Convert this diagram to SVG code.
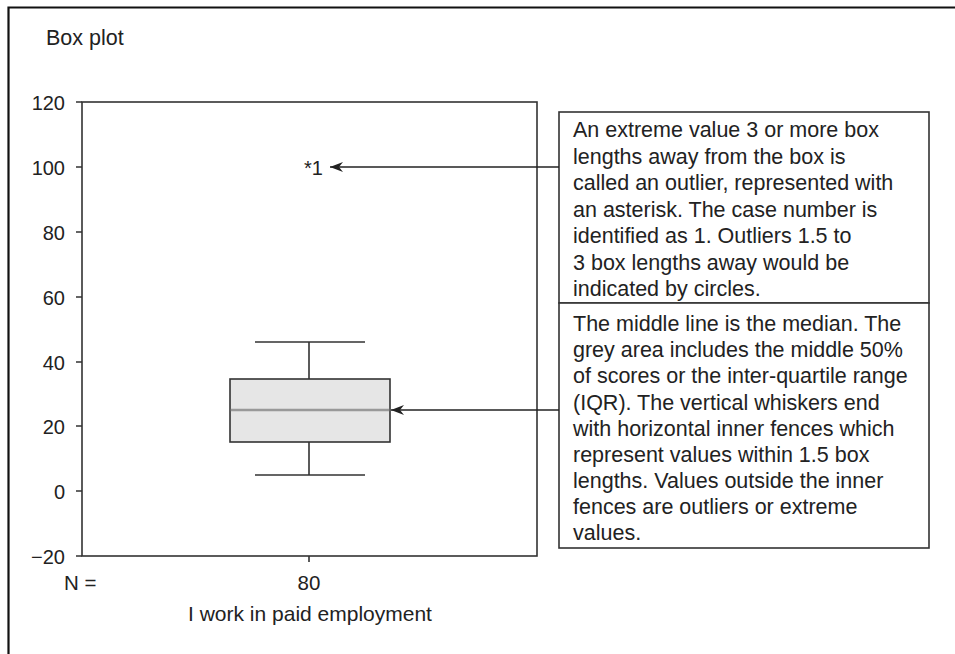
<svg xmlns="http://www.w3.org/2000/svg" width="955" height="654" viewBox="0 0 955 654">
  <defs>
    <marker id="arrow" viewBox="0 0 13 10" refX="13" refY="5" markerWidth="13" markerHeight="10" markerUnits="userSpaceOnUse" orient="auto">
      <path d="M0,0 L13,5 L0,10 L4,5 Z" fill="#222"/>
    </marker>
    <style>
      text { font-family: "Liberation Sans", Arial, sans-serif; fill: #222; }
      .tick { font-size: 20px; text-anchor: end; }
      .note { font-size: 21.5px; }
      .ln { stroke: #333; stroke-width: 1.6; fill: none; }
    </style>
  </defs>
  <rect width="955" height="654" fill="#fff"/>

  <!-- outer frame (top and left edges) -->
  <path d="M8.5,654 V7.5 H955" fill="none" stroke="#111" stroke-width="2.2"/>

  <text x="46" y="45" font-size="21.5">Box plot</text>

  <!-- plot area -->
  <g id="plot">
    <rect x="82" y="102" width="455" height="454" class="ln"/>
    <g class="ln">
      <path d="M76,102 H82 M76,167 H82 M76,232 H82 M76,297 H82 M76,362 H82 M76,426 H82 M76,491 H82 M76,556 H82 M309,556 V562"/>
    </g>
    <text class="tick" x="65" y="109.5">120</text>
    <text class="tick" x="65" y="174.5">100</text>
    <text class="tick" x="65" y="239.5">80</text>
    <text class="tick" x="65" y="304.5">60</text>
    <text class="tick" x="65" y="369.5">40</text>
    <text class="tick" x="65" y="433.5">20</text>
    <text class="tick" x="65" y="498.5">0</text>
    <text class="tick" x="65" y="563.5">−20</text>
    <text x="64" y="590" font-size="20.5">N =</text>
    <text x="309" y="590" font-size="20.5" text-anchor="middle">80</text>
    <text x="310" y="621" font-size="21" text-anchor="middle">I work in paid employment</text>
  </g>

  <!-- box and whiskers -->
  <g id="boxplot">
    <path class="ln" d="M255,342 H365 M309,342 V379 M309,442 V475 M255,475 H365"/>
    <rect x="230" y="379" width="160" height="63" fill="#e6e6e6" stroke="#333" stroke-width="1.6"/>
    <line x1="230.8" y1="410" x2="389.2" y2="410" stroke="#999" stroke-width="2.4"/>
  </g>

  <g id="outlier">
    <text x="304" y="174.5" font-size="20">*1</text>
  </g>

  <!-- callout notes -->
  <g id="note-outlier">
    <rect x="559" y="112" width="370" height="191" fill="#fff" stroke="#333" stroke-width="1.6"/>
    <text class="note" x="573" y="137">An extreme value 3 or more box</text>
    <text class="note" x="573" y="163.5">lengths away from the box is</text>
    <text class="note" x="573" y="190">called an outlier, represented with</text>
    <text class="note" x="573" y="216.5">an asterisk. The case number is</text>
    <text class="note" x="573" y="243">identified as 1. Outliers 1.5 to</text>
    <text class="note" x="573" y="269.5">3 box lengths away would be</text>
    <text class="note" x="573" y="296">indicated by circles.</text>
  </g>
  <g id="note-median">
    <rect x="559" y="303" width="370" height="245" fill="#fff" stroke="#333" stroke-width="1.6"/>
    <text class="note" x="573" y="331">The middle line is the median. The</text>
    <text class="note" x="573" y="357">grey area includes the middle 50%</text>
    <text class="note" x="573" y="383">of scores or the inter-quartile range</text>
    <text class="note" x="573" y="409.5">(IQR). The vertical whiskers end</text>
    <text class="note" x="573" y="435.5">with horizontal inner fences which</text>
    <text class="note" x="573" y="461.5">represent values within 1.5 box</text>
    <text class="note" x="573" y="487.5">lengths. Values outside the inner</text>
    <text class="note" x="573" y="513.5">fences are outliers or extreme</text>
    <text class="note" x="573" y="539.5">values.</text>
  </g>

  <!-- connectors -->
  <g id="connectors" stroke="#222" stroke-width="1.5" fill="none">
    <line x1="559" y1="167" x2="330" y2="167" marker-end="url(#arrow)"/>
    <line x1="559" y1="410" x2="391" y2="410" marker-end="url(#arrow)"/>
  </g>
</svg>
